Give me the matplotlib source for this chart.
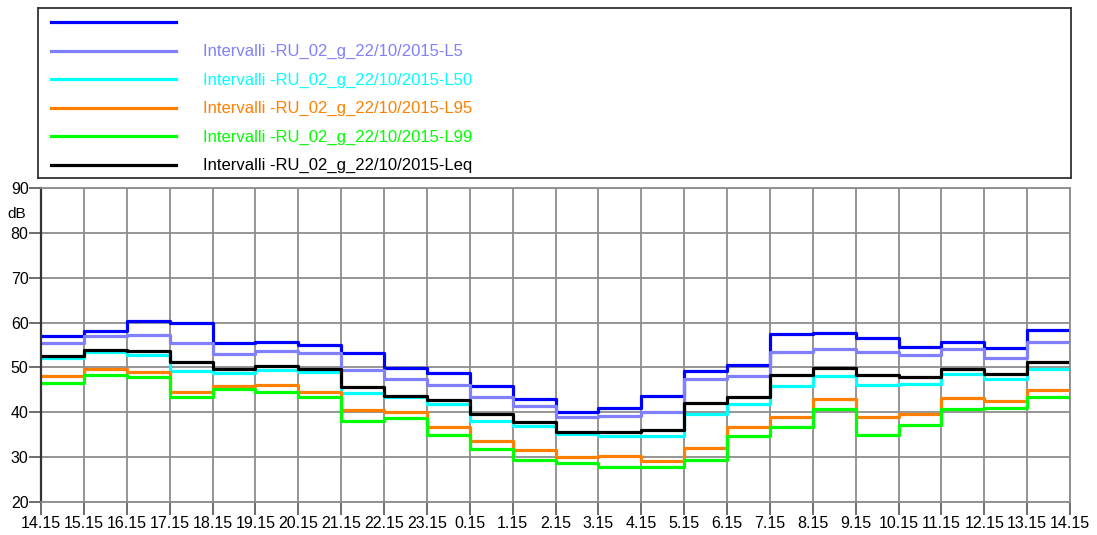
import numpy as np
import matplotlib
matplotlib.use("Agg")
import matplotlib.pyplot as plt

plt.rcParams['font.family'] = ['Liberation Sans', 'DejaVu Sans']

# hourly intervals, 14.15 -> 14.15 next day
hours = ["14.15", "15.15", "16.15", "17.15", "18.15", "19.15", "20.15", "21.15",
         "22.15", "23.15", "0.15", "1.15", "2.15", "3.15", "4.15", "5.15",
         "6.15", "7.15", "8.15", "9.15", "10.15", "11.15", "12.15", "13.15", "14.15"]

l1 = [56.9, 58.2, 60.4, 59.8, 55.4, 55.7, 55.0, 53.2, 49.8, 48.8, 45.9, 42.9,
      40.1, 40.9, 43.6, 49.2, 50.5, 57.4, 57.6, 56.5, 54.5, 55.7, 54.3, 58.3]
l5 = [55.5, 57.1, 57.2, 55.4, 53.0, 53.7, 53.2, 49.4, 47.4, 46.1, 43.5, 41.3,
      39.0, 39.2, 40.1, 47.4, 48.1, 53.4, 54.1, 53.4, 52.7, 54.0, 52.2, 55.6]
l50 = [52.2, 53.4, 52.8, 49.3, 48.8, 49.4, 48.9, 44.3, 43.3, 41.8, 38.1, 36.9,
       35.1, 34.8, 34.7, 39.6, 41.8, 45.9, 48.2, 46.0, 46.4, 48.5, 47.4, 49.6]
l95 = [48.0, 49.6, 49.0, 44.6, 45.9, 46.0, 44.6, 40.5, 40.0, 36.7, 33.7, 31.5,
       30.0, 30.3, 29.1, 32.0, 36.7, 38.9, 43.0, 39.0, 39.7, 43.1, 42.6, 44.9]
l99 = [46.6, 48.3, 47.8, 43.5, 45.2, 44.6, 43.3, 38.1, 38.8, 34.9, 31.9, 29.4,
       28.6, 27.8, 27.9, 29.4, 34.8, 36.8, 40.7, 34.9, 37.2, 40.8, 40.9, 43.3]
leq = [52.6, 53.9, 53.7, 51.2, 49.6, 50.3, 49.7, 45.6, 43.6, 42.7, 39.6, 37.8,
       35.5, 35.5, 36.1, 42.0, 43.5, 48.4, 49.9, 48.3, 47.9, 49.7, 48.5, 51.1]

names = ["", "Intervalli -RU_02_g_22/10/2015-L5", "Intervalli -RU_02_g_22/10/2015-L50",
         "Intervalli -RU_02_g_22/10/2015-L95", "Intervalli -RU_02_g_22/10/2015-L99",
         "Intervalli -RU_02_g_22/10/2015-Leq"]
series = [l1, l5, l50, l95, l99, leq]
colors = ["#0000ff", "#8080ff", "#00ffff", "#ff8000", "#00ff00", "#000000"]

W, H = 1097, 535
fig = plt.figure(figsize=(W / 100, H / 100), dpi=100)

# main plot
ax = fig.add_axes([41 / W, 1 - 502 / H, 1029 / W, 314 / H])
x = np.arange(len(hours))
for vals, c in zip(series, colors):
    ax.step(x, list(vals) + [vals[-1]], where='post', color=c, lw=2.3)

ax.set_xlim(0, len(hours) - 1)
ax.set_ylim(20, 90)
ax.set_xticks(x)
ax.set_xticklabels(hours, fontsize=11.5)
ax.set_yticks(np.arange(20, 91, 10))
ax.tick_params(axis='y', labelsize=11.5, length=9, width=1.2, pad=0, color="#555555")
ax.tick_params(axis='x', length=9, width=1.2, pad=1, color="#555555")
ax.grid(True, color="#8c8c8c", lw=1.3)
ax.set_axisbelow(True)
for s in ["top", "right", "bottom"]:
    ax.spines[s].set_color("#8c8c8c")
    ax.spines[s].set_linewidth(1.3)
ax.spines["left"].set_color("#333333")
ax.spines["left"].set_linewidth(1.6)
fig.text(7 / W, 1 - 218 / H, "dB", fontsize=11)

# legend box drawn in pixel units
lax = fig.add_axes([38 / W, 1 - 178 / H, (1071 - 38) / W, 170 / H])
lax.set_xlim(38, 1071)
lax.set_ylim(178, 8)
lax.set_xticks([])
lax.set_yticks([])
for s in lax.spines.values():
    s.set_color("#333333")
    s.set_linewidth(1.3)
for i, (nm, c) in enumerate(zip(names, colors)):
    yy = 22 + 28.5 * i
    lax.plot([51, 176], [yy, yy], color=c, lw=2.3)
    lax.text(203, yy + 5.5, nm, color=c, fontsize=12, va='baseline')

fig.savefig("out.png", dpi=100)
